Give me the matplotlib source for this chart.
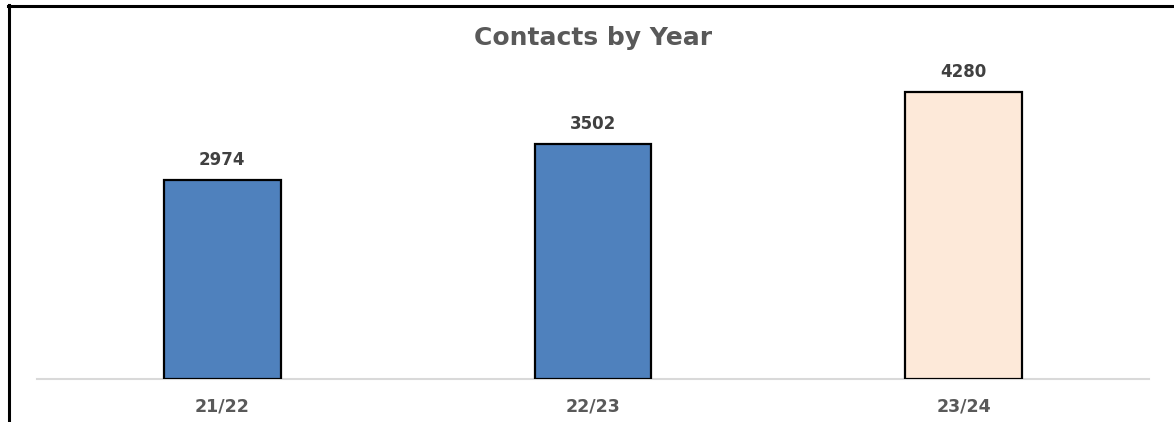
import matplotlib.pyplot as plt
from matplotlib.lines import Line2D

years = ["21/22", "22/23", "23/24"]
contacts = [2974, 3502, 4280]
bar_colors = ["#4F81BD", "#4F81BD", "#FDE9D9"]

W, H = 1174, 422
fig = plt.figure(figsize=(W / 100, H / 100), dpi=100)
ax = fig.add_axes([37 / W, 1 - 379 / H, (1149 - 37) / W, (379 - 44) / H])

bars = ax.bar(range(len(years)), contacts, width=0.315, color=bar_colors,
              edgecolor="black", linewidth=1.6, zorder=3)
ax.set_xlim(-0.5, len(years) - 0.5)
ax.set_ylim(0, 5000)

for b, v in zip(bars, contacts):
    ax.annotate(str(v), (b.get_x() + b.get_width() / 2, v), xytext=(0, 8),
                textcoords="offset points", ha="center", va="bottom",
                fontsize=12, fontweight="bold", color="#404040", family="DejaVu Sans")

ax.set_xticks(range(len(years)))
ax.set_xticklabels(years, fontsize=12.5, fontweight="bold", color="#595959", family="DejaVu Sans")
ax.tick_params(axis="x", length=0, pad=13)
ax.set_yticks([])
for s in ["left", "right", "top"]:
    ax.spines[s].set_visible(False)
ax.spines["bottom"].set_color("#d9d9d9")
ax.spines["bottom"].set_linewidth(1.5)

fig.text(593 / W, 1 - 38 / H, "Contacts by Year", ha="center", va="center",
         fontsize=18, fontweight="bold", color="#595959", family="DejaVu Sans")

# frame lines (left and top) of the original chart box
fig.add_artist(Line2D([9 / W, 9 / W], [0, 1 - 5 / H], color="black", linewidth=2.2,
                      transform=fig.transFigure))
fig.add_artist(Line2D([8 / W, 1], [1 - 6 / H, 1 - 6 / H], color="black", linewidth=2.2,
                      transform=fig.transFigure))

fig.savefig("out.png", dpi=100)
